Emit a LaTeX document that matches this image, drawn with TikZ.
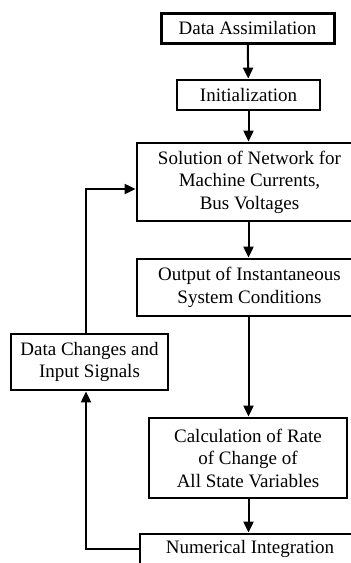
\documentclass[tikz,border=0pt]{standalone}
\usepackage{fontspec}
\setmainfont{Liberation Serif}
\usetikzlibrary{arrows.meta}

\begin{document}
\begin{tikzpicture}[x=1pt, y=-1pt,
    blk/.style={draw, line width=2.8pt, align=center, inner sep=0pt,
        font=\fontsize{19}{22.5}\selectfont},
    flow/.style={line width=2pt, -{Triangle[length=11pt,width=10pt]}}]
            \useasboundingbox (0,0) rectangle (351,563);
            \clip (0,0) rectangle (351,563);
            \node[blk, line width=3pt, minimum width=173pt, minimum height=30pt] (assim) at (247.5,28) {Data Assimilation};
            \node[blk, minimum width=143pt, minimum height=30pt] (init) at (248.5,95) {Initialization};
            \node[blk, minimum width=225pt, minimum height=78pt] (solve) at (249.5,182) {Solution of Network for\\Machine Currents,\\Bus Voltages};
            \node[blk, minimum width=225pt, minimum height=57pt] (output) at (249.5,287.5) {Output of Instantaneous\\System Conditions};
            \node[blk, minimum width=198pt, minimum height=80pt] (rate) at (248,458) {Calculation of Rate\\of Change of\\All State Variables};
            \node[blk, minimum width=220pt, minimum height=30pt] (integ) at (250,549) {Numerical Integration};
            \node[blk, minimum width=157pt, minimum height=56pt] (changes) at (89.5,362) {Data Changes and\\Input Signals};
            \coordinate (entry) at ([yshift=-7pt]solve.west);
            \coordinate (up) at ([xshift=-3.5pt]changes.north);
            \draw[flow] (assim) -- (init);
            \draw[flow] (init.south) -- (init.south |- solve.north);
            \draw[flow] (solve.south -| init.south) -- (output.north -| init.south);
            \draw[flow] (output.south -| init.south) -- (rate.north -| init.south);
            \draw[flow] (rate.south -| init.south) -- (integ.north -| init.south);
            \draw[flow] (integ.west) -| ([xshift=-3.5pt]changes.south);
            \draw[flow] (up) |- (entry);
        \end{tikzpicture}
\end{document}
